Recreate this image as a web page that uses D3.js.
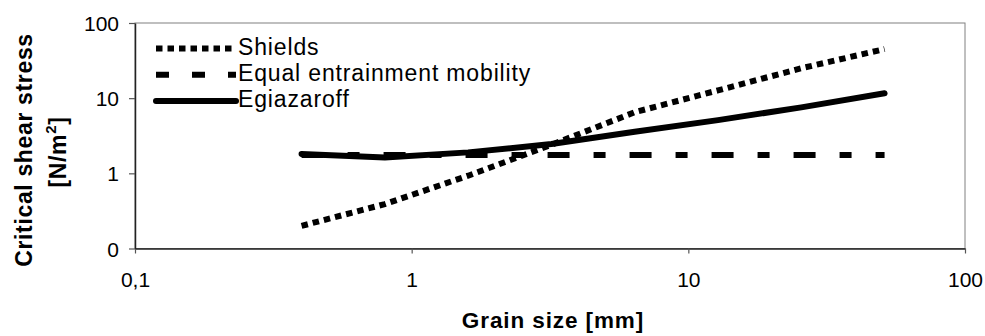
<!DOCTYPE html>
<html>
<head>
<meta charset="utf-8">
<script src="https://cdn.jsdelivr.net/npm/d3@7"></script>
<style>
  body { margin: 0; background: #fff; }
  text { font-family: 'Liberation Sans', Arial, sans-serif; fill: #000; }
</style>
</head>
<body>
<svg id="chart" width="985" height="336"></svg>
<script>
// grain sizes [mm]
const grainSizes = [0.4, 0.8, 1.6, 3.2, 6.4, 12.8, 25.6, 51.2]

// critical shear stress [N/m2]
const shields = [0.2, 0.39, 0.93, 2.4, 6.5, 12.7, 25, 45]
const equalMobility = [1.75, 1.75, 1.75, 1.75, 1.75, 1.75, 1.75, 1.75]
const egiazaroff = [1.81, 1.63, 1.9, 2.45, 3.57, 5.1, 7.55, 11.6]

const xTicks = [0.1, 1, 10, 100]
const xTickLabels = ['0,1', '1', '10', '100']
const yTicks = [0.1, 1, 10, 100]
const yTickLabels = ['0', '1', '10', '100']

const seriesNames = ['Shields', 'Equal entrainment mobility', 'Egiazaroff']

const LEFT = 135
const RIGHT = 965
const TOP = 23
const BOTTOM = 248.5

const svg = d3.select('#chart')

const x = d3.scaleLog().domain([0.1, 100]).range([LEFT, RIGHT])
const y = d3.scaleLog().domain([0.1, 100]).range([BOTTOM, TOP])

// plot area border (top / right are the light grey frame)
svg.append('rect')
  .attr('x', LEFT)
  .attr('y', TOP)
  .attr('width', RIGHT - LEFT)
  .attr('height', BOTTOM - TOP)
  .attr('fill', 'none')
  .attr('stroke', '#808080')
  .attr('stroke-width', 1)

const xAxis = svg.append('g')
  .attr('transform', 'translate(0,' + BOTTOM + ')')
  .call(d3.axisBottom(x)
    .tickValues(xTicks)
    .tickFormat((d, i) => xTickLabels[i])
    .tickSize(5)
    .tickSizeOuter(0))

xAxis.select('.domain').attr('stroke', '#222').attr('stroke-width', 1.5)
xAxis.selectAll('.tick line').attr('stroke', '#555').attr('stroke-width', 1.2)
xAxis.selectAll('.tick text')
  .attr('y', 38.5)
  .attr('dy', null)
  .style('font-size', '21px')
  .style('font-family', "'Liberation Sans', Arial, sans-serif")
  .attr('fill', '#000')

const yAxis = svg.append('g')
  .attr('transform', 'translate(' + LEFT + ',0)')
  .call(d3.axisLeft(y)
    .tickValues(yTicks)
    .tickFormat((d, i) => yTickLabels[i])
    .tickSize(6)
    .tickSizeOuter(0))

yAxis.select('.domain').attr('stroke', '#222').attr('stroke-width', 1.5)
yAxis.selectAll('.tick line').attr('stroke', '#555').attr('stroke-width', 1.2)
yAxis.selectAll('.tick text')
  .attr('x', -16)
  .attr('dy', '0.36em')
  .style('font-size', '21px')
  .style('font-family', "'Liberation Sans', Arial, sans-serif")
  .attr('fill', '#000')

// series
const styles = [
  { data: shields, dash: '6.5,5', cap: 'butt' },
  { data: equalMobility, dash: '22,24,12,24', cap: 'butt' },
  { data: egiazaroff, dash: null, cap: 'round' }
]

const line = d3.line()
  .x(d => x(d[0]))
  .y(d => y(d[1]))

styles.forEach(function (s) {
  svg.append('path')
    .datum(grainSizes.map((g, i) => [g, s.data[i]]))
    .attr('d', line)
    .attr('fill', 'none')
    .attr('stroke', '#000')
    .attr('stroke-width', 6)
    .attr('stroke-linecap', s.cap)
    .attr('stroke-linejoin', 'round')
    .attr('stroke-dasharray', s.dash)
})

// legend
const legendDash = ['6.5,5', '13,23', null]
const legend = svg.append('g')
seriesNames.forEach(function (name, i) {
  const ly = 48.5 + i * 26.3
  legend.append('line')
    .attr('x1', 156)
    .attr('x2', 236)
    .attr('y1', ly)
    .attr('y2', ly)
    .attr('stroke', '#000')
    .attr('stroke-width', 6)
    .attr('stroke-linecap', legendDash[i] ? 'butt' : 'round')
    .attr('stroke-dasharray', legendDash[i])
  legend.append('text')
    .attr('x', 238)
    .attr('y', ly + 6)
    .attr('font-size', 23)
    .attr('letter-spacing', 0.85)
    .text(name)
})

// axis titles
svg.append('text')
  .attr('x', 553)
  .attr('y', 328)
  .attr('text-anchor', 'middle')
  .attr('font-size', 22.5)
  .attr('font-weight', 'bold')
  .attr('letter-spacing', 0.9)
  .text('Grain size [mm]')

svg.append('text')
  .attr('transform', 'translate(32,150) rotate(-90)')
  .attr('text-anchor', 'middle')
  .attr('font-size', 23)
  .attr('font-weight', 'bold')
  .attr('letter-spacing', 0.65)
  .text('Critical shear stress')

const unit = svg.append('text')
  .attr('transform', 'translate(66,152) rotate(-90)')
  .attr('text-anchor', 'middle')
  .attr('font-size', 23)
  .attr('font-weight', 'bold')
  .attr('letter-spacing', 0.65)
unit.append('tspan').text('[N/m')
unit.append('tspan').attr('dy', -10).attr('font-size', 15).text('2')
unit.append('tspan').attr('dy', 10).text(']')
</script>
</body>
</html>
